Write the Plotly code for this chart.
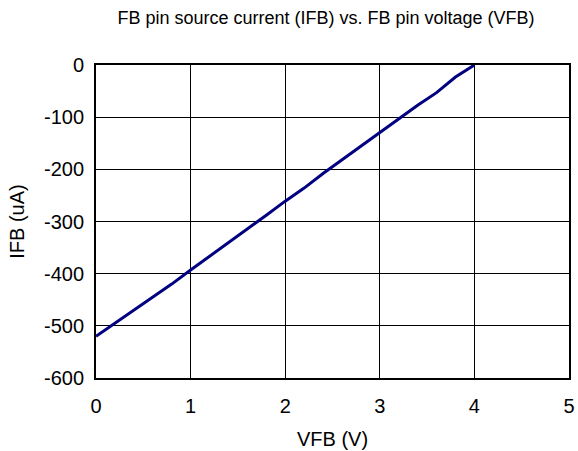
import plotly.graph_objects as go

vfb = [0.0, 0.2, 0.4, 0.6, 0.8, 1.0, 1.2, 1.4, 1.6, 1.8, 2.0,
       2.2, 2.4, 2.6, 2.8, 3.0, 3.2, 3.4, 3.6, 3.8, 4.0]
ifb = [-520, -495, -470, -445, -420, -393, -367, -341, -315, -288, -261,
       -236, -208, -182, -156, -130, -104, -77, -53, -23, 0]

x_ticks = [0, 1, 2, 3, 4, 5]
y_ticks = [0, -100, -200, -300, -400, -500, -600]

fig = go.Figure()
fig.add_trace(go.Scatter(x=vfb, y=ifb, mode="lines",
                         line=dict(color="#000080", width=3),
                         showlegend=False, hoverinfo="skip"))

font = "Liberation Sans, Arial, sans-serif"
fig.update_layout(
    template="none",
    width=578, height=451,
    margin=dict(l=96, r=9, t=65, b=73, autoexpand=False),
    paper_bgcolor="white", plot_bgcolor="white",
    title=dict(text="FB pin source current (IFB) vs. FB pin voltage (VFB)",
               x=326/578, xanchor="center", y=1-18/451, yanchor="middle",
               font=dict(family=font, size=18, color="black")),
    font=dict(family=font, color="black"),
    xaxis=dict(range=[0, 5], tickvals=x_ticks, ticktext=[str(v) for v in x_ticks],
               showgrid=True, gridcolor="black", gridwidth=1,
               showline=True, linecolor="black", linewidth=2, mirror=True,
               zeroline=False, ticks="", automargin=False, ticklabelstandoff=9,
               tickfont=dict(size=20, family=font),
               title=dict(text="VFB (V)", font=dict(size=20, family=font), standoff=16)),
    yaxis=dict(range=[-600, 0], tickvals=y_ticks, ticktext=[str(v) for v in y_ticks],
               showgrid=True, gridcolor="black", gridwidth=1,
               showline=True, linecolor="black", linewidth=2, mirror=True,
               zeroline=False, ticks="", automargin=False, ticklabelstandoff=6,
               tickfont=dict(size=20, family=font),
               title=dict(text="IFB (uA)", font=dict(size=20, family=font), standoff=14)),
)

fig.write_html("out.html", config={"displayModeBar": False},
               post_script="document.body.style.margin='0';")
